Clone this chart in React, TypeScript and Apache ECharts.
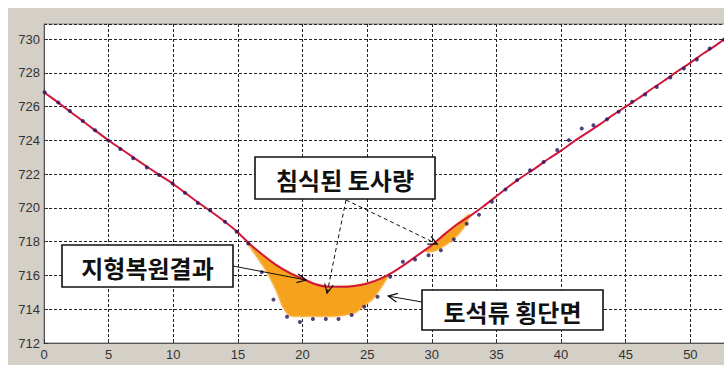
import { useEffect, useRef } from "react";
import * as echarts from "echarts";

// Restored terrain profile (지형복원결과)
const restoredX = [
  0, 1, 2, 3, 4, 5, 6, 7, 8, 9, 10, 11, 12, 13, 14, 15, 16, 17, 18, 19, 20, 21, 22, 23, 24, 25, 26,
  27, 28, 29, 30, 31, 32, 33, 34, 35, 36, 37, 38, 39, 40, 41, 42, 43, 44, 45, 46, 47, 48, 49, 50, 51,
  52, 53,
];
const restoredY = [
  726.86, 726.3, 725.72, 725.15, 724.57, 724.0, 723.48, 722.95, 722.43, 721.92, 721.42, 720.85,
  720.28, 719.75, 719.18, 718.55, 717.8, 717.17, 716.6, 716.15, 715.8, 715.48, 715.33, 715.33,
  715.38, 715.53, 715.8, 716.2, 716.7, 717.25, 717.8, 718.45, 719.05, 719.55, 720.1, 720.7, 721.3,
  721.85, 722.35, 722.9, 723.4, 723.95, 724.45, 724.95, 725.5, 726.0, 726.5, 727.05, 727.55, 728.1,
  728.6, 729.15, 729.65, 730.2,
];

// Surveyed debris-flow cross section (토석류 횡단면)
const sectionX = [
  0.05, 1.1, 2.0, 3.0, 3.95, 4.98, 5.9, 6.9, 7.95, 8.9, 9.95, 10.9, 11.9, 12.85, 14.0, 14.9, 15.8,
  16.85, 17.75, 18.8, 19.8, 20.8, 21.8, 22.78, 23.8, 24.77, 25.8, 26.78, 27.76, 28.7, 29.75, 30.7,
  31.7, 32.7, 33.65, 34.65, 35.7, 36.6, 37.6, 38.65, 39.7, 40.6, 41.6, 42.5, 43.55, 44.45, 45.5,
  46.5, 47.4, 48.45, 49.5, 50.5, 51.5, 52.6,
];
const sectionY = [
  726.85, 726.25, 725.75, 725.15, 724.6, 724.0, 723.5, 722.95, 722.4, 721.95, 721.45, 720.9, 720.3,
  719.87, 719.18, 718.59, 717.9, 716.2, 714.57, 713.55, 713.25, 713.42, 713.42, 713.42, 713.66,
  714.15, 714.74, 715.92, 716.81, 716.95, 717.2, 717.5, 718.14, 719.06, 719.6, 720.37, 721.1,
  721.65, 722.24, 722.73, 723.43, 724.02, 724.71, 724.9, 725.26, 725.7, 726.29, 726.72, 727.17,
  727.73, 728.26, 728.8, 729.45, 729.98,
];

// Eroded sediment (침식된 토사량): main valley region
const erosionX = [15.7, 16.5, 17.2, 18.0, 18.5, 19.0, 20.0, 21.0, 22.0, 23.0, 24.0, 24.7, 25.5, 26.6];
const erosionTop = [
  717.97, 717.45, 717.05, 716.6, 716.35, 716.15, 715.8, 715.48, 715.33, 715.33, 715.38, 715.48,
  715.63, 716.0,
];
const erosionBottom = [
  717.97, 717.1, 716.3, 715.1, 714.15, 713.66, 713.6, 713.6, 713.6, 713.65, 713.8, 714.2, 714.7,
  715.95,
];

// Eroded sediment: small patch on the right bank
const patchX = [29.6, 30.3, 31.0, 31.7, 32.4, 32.9];
const patchTop = [717.5, 717.95, 718.45, 718.9, 719.3, 719.6];
const patchBottom = [717.42, 717.5, 717.8, 718.2, 718.8, 719.5];

const xTicks = { min: 0, max: 55, interval: 5 };
const yTicks = { min: 712, max: 730.9, interval: 2 };

// Annotation text and where each arrow points (data coordinates)
const labelRestored = "지형복원결과";
const labelEroded = "침식된 토사량";
const labelSection = "토석류 횡단면";
const tipRestored = [20.28, 715.73];
const tipErodedA = [21.9, 714.96];
const tipErodedB = [30.42, 717.86];
const tipSection = [26.63, 714.78];

const KFONT = '"Noto Sans CJK KR", "Noto Sans", sans-serif';
const NFONT = '"Liberation Sans", Arial, sans-serif';

function arrow(from: number[], to: number[], dashed: boolean) {
  const ang = Math.atan2(to[1] - from[1], to[0] - from[0]);
  const len = 10;
  const spread = 0.45;
  const h1 = [to[0] - len * Math.cos(ang - spread), to[1] - len * Math.sin(ang - spread)];
  const h2 = [to[0] - len * Math.cos(ang + spread), to[1] - len * Math.sin(ang + spread)];
  return [
    {
      type: "line",
      z: 100,
      shape: { x1: from[0], y1: from[1], x2: to[0], y2: to[1] },
      style: { stroke: "#111", lineWidth: 1, lineDash: dashed ? [4, 3] : null },
    },
    {
      type: "polyline",
      z: 100,
      shape: { points: [h1, to, h2] },
      style: { stroke: "#111", lineWidth: 1.2, fill: null },
    },
  ];
}

function box(x: number, y: number, w: number, h: number, text: string) {
  return [
    {
      type: "rect",
      z: 101,
      shape: { x, y, width: w, height: h },
      style: { fill: "#fff", stroke: "#111", lineWidth: 1.6 },
    },
    {
      type: "text",
      z: 102,
      style: {
        text,
        x: x + w / 2,
        y: y + h / 2 + 1,
        align: "center",
        verticalAlign: "middle",
        font: `bold 24px ${KFONT}`,
        fill: "#111",
      },
    },
  ];
}

export default function App() {
  const ref = useRef<HTMLDivElement>(null);

  useEffect(() => {
    if (!ref.current) return;
    const chart = echarts.init(ref.current, null, { renderer: "svg" });

    const regions = [
      { xs: erosionX, top: erosionTop, bottom: erosionBottom },
      { xs: patchX, top: patchTop, bottom: patchBottom },
    ];

    chart.setOption({
      animation: false,
      backgroundColor: "#d4d0c8",
      grid: {
        show: true,
        left: 36,
        top: 16,
        right: -31,
        bottom: 22,
        outerBoundsMode: "none",
        containLabel: false,
        backgroundColor: "#ffffff",
        borderColor: "#808080",
        borderWidth: 1,
      },
      xAxis: {
        type: "value",
        min: xTicks.min,
        max: xTicks.max,
        interval: xTicks.interval,
        axisLine: { show: true, onZero: false, lineStyle: { color: "#555", width: 1 } },
        axisTick: { show: true, inside: true, length: 4, lineStyle: { color: "#333" } },
        axisLabel: {
          color: "#333",
          fontSize: 13,
          fontFamily: NFONT,
          margin: 5,
          showMaxLabel: false,
        },
        splitLine: { show: true, lineStyle: { color: "#222", width: 1, type: [3, 2] } },
      },
      yAxis: {
        type: "value",
        min: yTicks.min,
        max: yTicks.max,
        interval: yTicks.interval,
        axisLine: { show: true, lineStyle: { color: "#555", width: 1 } },
        axisTick: { show: true, inside: true, length: 4, lineStyle: { color: "#333" } },
        axisLabel: {
          color: "#333",
          fontSize: 13,
          fontFamily: NFONT,
          margin: 4,
          showMaxLabel: false,
        },
        splitLine: { show: true, lineStyle: { color: "#222", width: 1, type: [3, 2] } },
      },
      series: [
        {
          type: "custom",
          name: "침식된 토사량",
          z: 2,
          data: [[0], [1]],
          renderItem: (params: any, api: any) => {
            const r = regions[params.dataIndex];
            const upper = r.xs.map((x, i) => api.coord([x, r.top[i]]));
            const lower = r.xs.map((x, i) => api.coord([x, r.bottom[i]])).reverse();
            return {
              type: "polygon",
              shape: { points: upper.concat(lower), smooth: 0.3 },
              style: {
                fill: "#f6a21c",
                stroke: "#f7ad3a",
                lineWidth: 1.5,
                shadowBlur: 2,
                shadowColor: "rgba(246,162,28,0.6)",
              },
            };
          },
        },
        {
          type: "line",
          name: "지형복원결과",
          z: 3,
          data: restoredX.map((x, i) => [x, restoredY[i]]),
          showSymbol: false,
          smooth: 0.2,
          lineStyle: { color: "#d0163c", width: 2 },
        },
        {
          type: "scatter",
          name: "토석류 횡단면",
          z: 4,
          data: sectionX.map((x, i) => [x, sectionY[i]]),
          symbolSize: 4,
          itemStyle: { color: "#22145e" },
        },
      ],
    });

    const px = (p: number[]) => chart.convertToPixel({ gridIndex: 0 }, p) as number[];

    chart.setOption({
      graphic: [
        ...arrow([225, 258], px(tipRestored), false),
        ...arrow([338, 192], px(tipErodedA), true),
        ...arrow([338, 192], px(tipErodedB), true),
        ...arrow([414, 294], px(tipSection), false),
        ...box(54, 237, 171, 42, labelRestored),
        ...box(247, 149, 180, 42, labelEroded),
        ...box(414, 282, 181, 40, labelSection),
      ],
    });

    return () => chart.dispose();
  }, []);

  return (
    <div
      ref={ref}
      style={{
        position: "fixed",
        left: 8,
        top: 8,
        width: 716,
        height: 357,
        overflow: "hidden",
      }}
    />
  );
}
